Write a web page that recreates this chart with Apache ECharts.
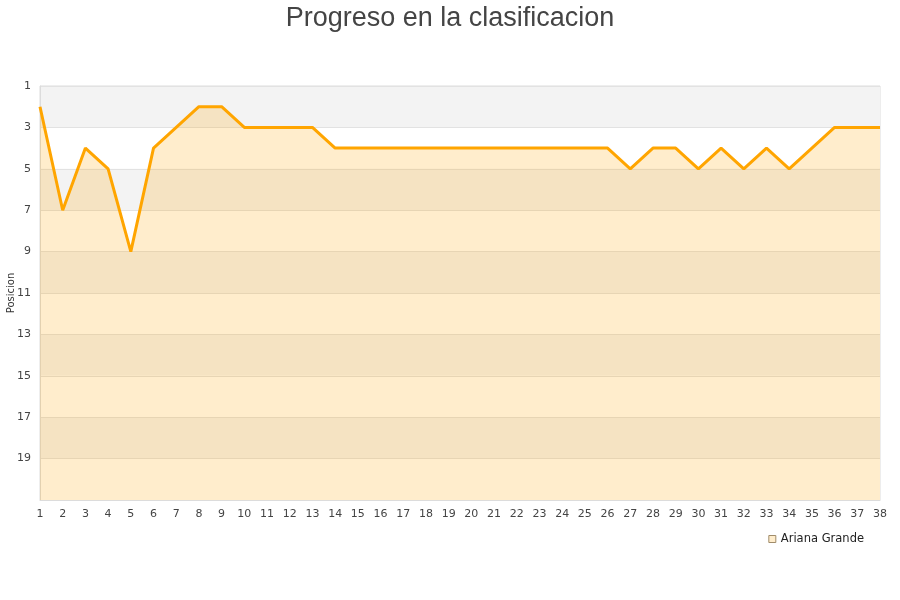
<!DOCTYPE html>
<html><head><meta charset="utf-8">
<script src="https://cdn.jsdelivr.net/npm/echarts@6/dist/echarts.min.js"></script>
<style>html,body{margin:0;padding:0;background:#fff}#c{width:900px;height:600px}</style>
</head><body><div id="c"></div>
<script>
const weeks = ["1","2","3","4","5","6","7","8","9","10","11","12","13","14","15","16","17","18","19","20","21","22","23","24","25","26","27","28","29","30","31","32","33","34","35","36","37","38"];
const positions = [2,7,4,5,9,4,3,2,2,3,3,3,3,4,4,4,4,4,4,4,4,4,4,4,4,4,5,4,4,5,4,5,4,5,4,3,3,3];
const yTicks = [1,3,5,7,9,11,13,15,17,19];
const seriesName = "Ariana Grande";

const chart = echarts.init(document.getElementById('c'));
chart.setOption({
  animation: false,
  backgroundColor: '#fff',
  title: {
    text: 'Progreso en la clasificacion', left: 'center', top: 0,
    textStyle: { fontFamily: 'Liberation Sans', fontSize: 27, fontWeight: 'normal', color: '#444' }
  },
  legend: {
    data: [{ name: seriesName, icon: 'rect', itemStyle: { color: '#ffedcc', borderColor: '#a08c6a', borderWidth: 1 } }],
    right: 31, top: 528, itemWidth: 7, itemHeight: 7, itemGap: 10,
    textStyle: { fontFamily: 'DejaVu Sans', fontSize: 11.5, color: '#222' }
  },
  grid: { left: 40, right: 20, top: 86, bottom: 100, show: true, borderColor: '#dcdcdc', borderWidth: 1, outerBoundsMode: 'none', containLabel: false },
  xAxis: {
    type: 'category', data: weeks, boundaryGap: false,
    axisLine: { show: true, lineStyle: { color: '#dcdcdc' } },
    axisTick: { show: false },
    axisLabel: { interval: 0, fontFamily: 'DejaVu Sans', fontSize: 11, color: '#444', margin: 9 },
    splitLine: { show: false }
  },
  yAxis: {
    type: 'value', inverse: true, min: 1, max: 21, interval: 2,
    name: 'Posicion', nameLocation: 'middle', nameGap: 24, nameRotate: 90, nameMoveOverlap: false,
    nameTextStyle: { fontFamily: 'DejaVu Sans', fontSize: 10, color: '#333' },
    axisLine: { show: true, lineStyle: { color: '#dcdcdc' } },
    axisTick: { show: false },
    axisLabel: {
      fontFamily: 'DejaVu Sans', fontSize: 11, color: '#444', margin: 9,
      formatter: v => yTicks.includes(v) ? String(v) : ''
    },
    splitLine: { show: true, lineStyle: { color: '#e2e2e2' } },
    splitArea: { show: true, areaStyle: { color: ['#f3f3f3', '#ffffff'] } }
  },
  series: [{
    name: seriesName, type: 'line', data: positions,
    showSymbol: false, symbol: 'none',
    itemStyle: { color: '#ffa500' },
    lineStyle: { color: '#ffa500', width: 3 },
    areaStyle: { color: '#ffa500', opacity: 0.2, origin: 'end' }
  }]
});
</script></body></html>
